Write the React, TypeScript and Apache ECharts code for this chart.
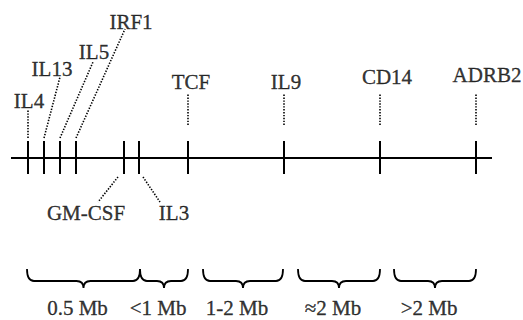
import React, { useEffect, useRef } from "react";
import * as echarts from "echarts";

// ---- data ----
const genes = ["IL4", "IL13", "IL5", "IRF1", "GM-CSF", "IL3", "TCF", "IL9", "CD14", "ADRB2"];
const genePositions = [28, 44, 60, 76, 124, 139, 188, 284, 380, 476];
const mapStart = 11;
const mapEnd = 492;
const regionLabels = ["0.5 Mb", "<1 Mb", "1-2 Mb", "≈2 Mb", ">2 Mb"];
const regionStart = [27, 140, 203, 298, 394];
const regionEnd = [140, 188, 283, 380, 476];

// ---- layout (diagram units) ----
const axisY = 158;
const tickTop = 141;
const tickBottom = 174;
const leaderFrom: number[][] = [
  [28, 138], [44, 138], [60, 138], [76, 138], [118, 177], [143, 177],
  [188, 125], [284, 125], [380, 125], [476, 125],
];
const leaderTo: number[][] = [
  [28, 110], [60, 77], [93, 62], [125, 29], [98, 202], [160, 202],
  [188, 93], [284, 93], [380, 93], [476, 93],
];
const labelAnchors: number[][] = [
  [29, 101], [52, 69], [94, 52], [131, 22], [86, 213], [174, 213],
  [191, 82], [286, 82], [387, 77], [487, 75],
];
const braceTop = 269;
const braceFlat = 281;
const braceCusp = 288;
const regionLabelY = 308;
const regionLabelShift = -6;

const FONT = "Liberation Serif, Times New Roman, serif";
const FONT_SIZE = 21;

export default function App() {
  const ref = useRef<HTMLDivElement>(null);
  useEffect(() => {
    document.body.style.margin = "0";
    const chart = echarts.init(ref.current!, null, { renderer: "svg" });
    const labelSeries = (points: number[][], names: string[]) => ({
      type: "scatter",
      data: points.map((p, i) => ({ value: p, name: names[i] })),
      symbolSize: 0,
      silent: true,
      label: {
        show: true,
        position: "inside",
        formatter: (p: any) => p.name,
        color: "#000",
        fontFamily: FONT,
        fontSize: FONT_SIZE,
        textBorderColor: "#000",
        textBorderWidth: 0.35,
        align: "center",
        verticalAlign: "middle",
      },
    });
    chart.setOption({
      animation: false,
      backgroundColor: "#fff",
      textStyle: { fontFamily: FONT },
      grid: { left: 0, right: 0, top: 0, bottom: 0 },
      xAxis: { type: "value", min: 0, max: 523, show: false },
      yAxis: { type: "value", min: 0, max: 320, inverse: true, show: false },
      series: [
        {
          type: "line",
          data: [[mapStart, axisY], [mapEnd, axisY]],
          symbol: "none",
          lineStyle: { color: "#000", width: 2 },
          silent: true,
        },
        {
          type: "custom",
          data: genePositions.map((p, i) => [p, axisY, i]),
          silent: true,
          renderItem: (params: any, api: any) => {
            const i = params.dataIndex;
            const x = api.value(0);
            const t = api.coord([x, tickTop]);
            const b = api.coord([x, tickBottom]);
            const lf = api.coord(leaderFrom[i]);
            const lt = api.coord(leaderTo[i]);
            return {
              type: "group",
              children: [
                {
                  type: "line",
                  shape: { x1: t[0], y1: t[1], x2: b[0], y2: b[1] },
                  style: { stroke: "#000", lineWidth: 2 },
                },
                {
                  type: "line",
                  shape: { x1: lf[0], y1: lf[1], x2: lt[0], y2: lt[1] },
                  style: { stroke: "#000", lineWidth: 1.6, lineDash: [1.4, 1.5] },
                },
              ],
            };
          },
        },
        {
          type: "custom",
          data: regionStart.map((s, i) => [s, regionEnd[i], i]),
          silent: true,
          renderItem: (params: any, api: any) => {
            const x0 = api.coord([api.value(0), braceTop]);
            const x1 = api.coord([api.value(1), braceTop]);
            const yF = api.coord([0, braceFlat])[1];
            const yC = api.coord([0, braceCusp])[1];
            const yT = x0[1];
            const a = x0[0];
            const c = x1[0];
            const m = (a + c) / 2;
            const r = 7;
            const d =
              `M${a},${yT} Q${a},${yF} ${a + r},${yF} L${m - r},${yF} ` +
              `Q${m},${yF} ${m},${yC} Q${m},${yF} ${m + r},${yF} ` +
              `L${c - r},${yF} Q${c},${yF} ${c},${yT}`;
            return {
              type: "path",
              shape: { pathData: d },
              style: { stroke: "#000", lineWidth: 1.8, fill: "none" },
            };
          },
        },
        labelSeries(labelAnchors, genes),
        labelSeries(
          regionStart.map((s, i) => [(s + regionEnd[i]) / 2 + regionLabelShift, regionLabelY]),
          regionLabels
        ),
      ],
    });
    return () => chart.dispose();
  }, []);
  return <div ref={ref} style={{ width: 523, height: 320 }} />;
}
